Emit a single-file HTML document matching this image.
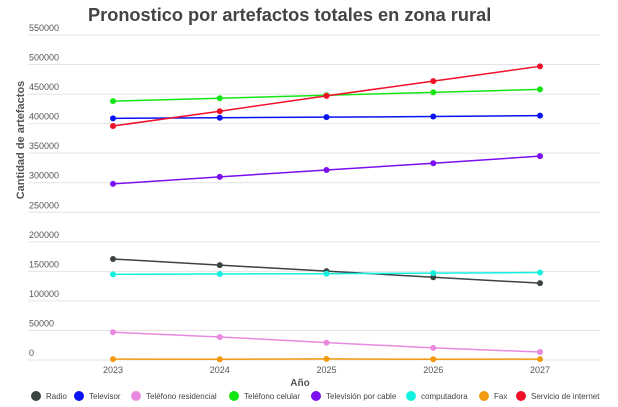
<!DOCTYPE html>
<html><head><meta charset="utf-8"><style>
body{margin:0;background:#fff;font-family:"Liberation Sans",sans-serif;}
</style></head><body>
<svg id="c" width="618" height="407" style="display:block"></svg>
<script>
const years=["2023","2024","2025","2026","2027"];
const yTicks=[0,50000,100000,150000,200000,250000,300000,350000,400000,450000,500000,550000];
const seriesNames=["Radio","Televisor","Teléfono residencial","Teléfono celular","Televisión por cable","computadora","Fax","Servicio de internet"];
const seriesColors=["#3a4440","#0a14f0","#e88ae0","#14e614","#7a0ff0","#14f0e0","#f09a10","#f0102a"];
const radio=[171000,160500,150500,140000,130000];
const televisor=[409000,410000,411000,412000,413500];
const telResidencial=[47000,39000,29500,20500,13500];
const telCelular=[438000,443000,448000,453000,458000];
const tvCable=[298000,310000,321500,333000,345000];
const computadora=[145000,145500,146000,147000,148000];
const fax=[1500,1200,1800,1300,1500];
const internet=[396000,421000,447000,472000,497000];
const allSeries=[radio,televisor,telResidencial,telCelular,tvCable,computadora,fax,internet];

const NS="http://www.w3.org/2000/svg";
const svg=document.getElementById('c');
function mk(t,a,p){const e=document.createElementNS(NS,t);for(const k in a)e.setAttribute(k,a[k]);(p||svg).appendChild(e);return e;}
const x0=113,x1=540,yb=360,yt=35,ymax=550000;
const xs=i=>x0+(x1-x0)*i/(years.length-1);
const ys=v=>yb-(yb-yt)*v/ymax;

let t=mk('text',{x:88,y:21,'font-size':18.2,'font-weight':'bold',fill:'#444'});t.textContent="Pronostico por artefactos totales en zona rural";



yTicks.forEach(v=>{
  const l=mk('line',{x1:28,x2:600,y1:ys(v),y2:ys(v),stroke:'#e4e4e4','stroke-width':1});
  
  
  const tx=mk('text',{x:29,y:ys(v)-4,'font-size':9,fill:'#555'});tx.textContent=v;
  
  
});
years.forEach((y,i)=>{
  const tx=mk('text',{x:xs(i),y:373,'font-size':9,fill:'#555','text-anchor':'middle'});tx.textContent=y;
  
  
});
t=mk('text',{x:300,y:386,'font-size':10,'font-weight':'bold',fill:'#555','text-anchor':'middle'});t.textContent="Año";


t=mk('text',{x:0,y:0,'font-size':11,'font-weight':'bold',fill:'#555','text-anchor':'middle',transform:'translate(24,140) rotate(-90)'});t.textContent="Cantidad de artefactos";



allSeries.forEach((s,k)=>{
  const g=mk('g',{});
  
  
  const pl=mk('polyline',{points:s.map((v,i)=>xs(i)+','+ys(v)).join(' '),fill:'none',stroke:seriesColors[k],'stroke-width':1.5},g);
  
  
  s.forEach((v,i)=>{
    const c=mk('circle',{cx:xs(i),cy:ys(v),r:3,fill:seriesColors[k]},g);
    
    
  });
});

const legX=[36,79,136,234,316,411,484,521];
seriesNames.forEach((n,k)=>{
  const g=mk('g',{});
  
  
  mk('circle',{cx:legX[k],cy:396,r:5,fill:seriesColors[k]},g);
  const tx=mk('text',{x:legX[k]+10,y:399,'font-size':8,fill:'#444'},g);tx.textContent=n;
});
</script>
</body></html>
